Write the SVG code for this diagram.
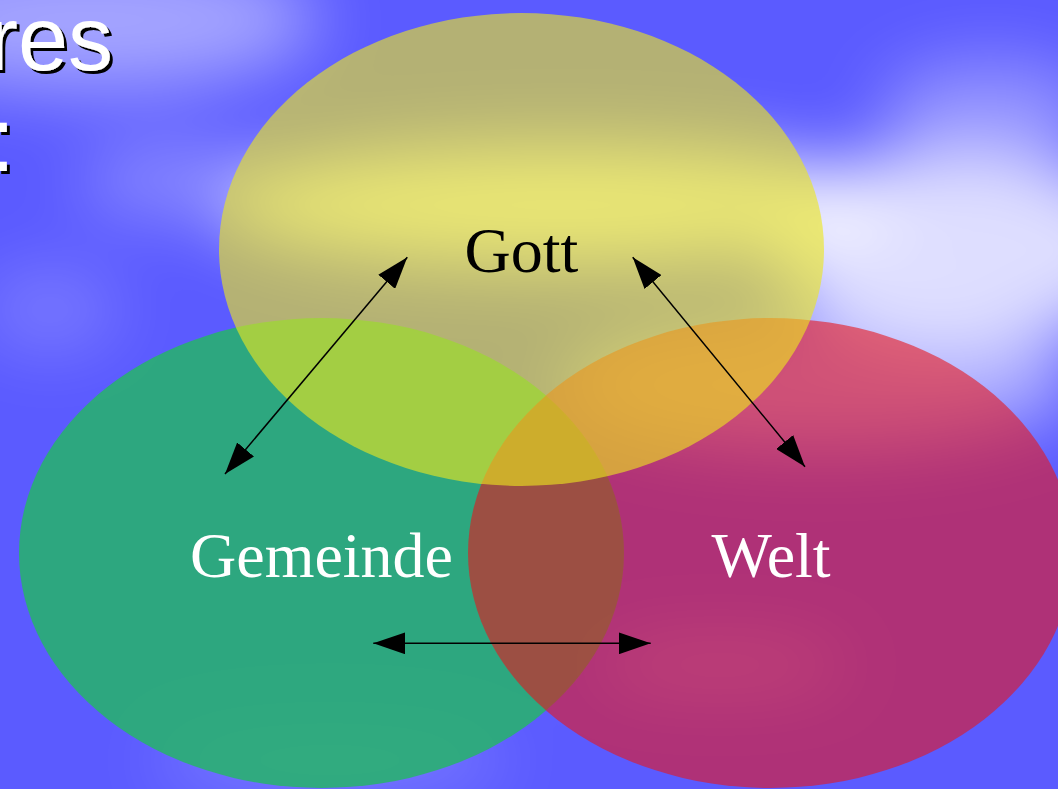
<svg xmlns="http://www.w3.org/2000/svg" width="1058" height="789" viewBox="0 0 1058 789">
<defs>
<style>
.lbl{font-family:"Liberation Serif","Times New Roman",serif;font-size:64px;text-anchor:middle}
.ttl{font-family:"Liberation Sans",Arial,sans-serif;font-size:90px;fill:#fff;filter:url(#shadow)}
.con{stroke:#000;stroke-width:1.5;fill:none;marker-start:url(#ah);marker-end:url(#ah)}
</style>
<filter id="blur" x="-50%" y="-50%" width="200%" height="200%"><feGaussianBlur stdDeviation="35"/></filter>
<filter id="shadow" x="-20%" y="-20%" width="140%" height="140%">
<feOffset in="SourceAlpha" dx="3" dy="3" result="o"/>
<feMerge><feMergeNode in="o"/><feMergeNode in="SourceGraphic"/></feMerge>
</filter>
<marker id="ah" viewBox="0 0 32 22" markerWidth="32" markerHeight="22" refX="32" refY="11" markerUnits="userSpaceOnUse" orient="auto-start-reverse">
<path d="M0,0 L32,11 L0,22 Z" fill="#000"/>
</marker>
</defs>
<g id="background">
<rect width="1058" height="789" fill="#5b5bff"/>
<g filter="url(#blur)" fill="#fff">
<ellipse cx="90" cy="20" rx="230" ry="70" opacity="0.45"/>
<ellipse cx="170" cy="180" rx="90" ry="35" opacity="0.3"/>
<ellipse cx="50" cy="310" rx="70" ry="40" opacity="0.2"/>
<ellipse cx="560" cy="205" rx="340" ry="60" opacity="0.85"/>
<ellipse cx="960" cy="250" rx="190" ry="100" opacity="0.8"/>
<ellipse cx="990" cy="110" rx="110" ry="50" opacity="0.35"/>
<ellipse cx="820" cy="385" rx="260" ry="65" opacity="0.5"/>
<ellipse cx="720" cy="665" rx="130" ry="25" opacity="0.3"/>
<ellipse cx="330" cy="760" rx="180" ry="35" opacity="0.2"/>
</g>
</g>
<g id="title">
<text class="ttl" x="113" y="70" text-anchor="end">res</text>
<text class="ttl" x="-10" y="171">:</text>
</g>
<g id="gemeinde">
<ellipse cx="321.5" cy="553" rx="302.5" ry="235" fill="rgb(38,181,105)" fill-opacity="0.85"/>
</g>
<g id="welt">
<ellipse cx="770.5" cy="553" rx="302.5" ry="235" fill="rgb(232,22,28)" fill-opacity="0.6"/>
</g>
<g id="gott">
<ellipse cx="521.5" cy="249.5" rx="302.5" ry="236.5" fill="rgb(235,230,30)" fill-opacity="0.62"/>
</g>
<g id="labels">
<text class="lbl" x="521.5" y="272" fill="#000">Gott</text>
<text class="lbl" x="321.5" y="577" fill="#fff">Gemeinde</text>
<text class="lbl" x="771" y="577" fill="#fff">Welt</text>
</g>
<g id="connectors">
<line class="con" x1="407.3" y1="257.3" x2="225" y2="474"/>
<line class="con" x1="632.7" y1="257.3" x2="805" y2="466.7"/>
<line class="con" x1="373.3" y1="643.3" x2="650.7" y2="643.3"/>
</g>
</svg>
